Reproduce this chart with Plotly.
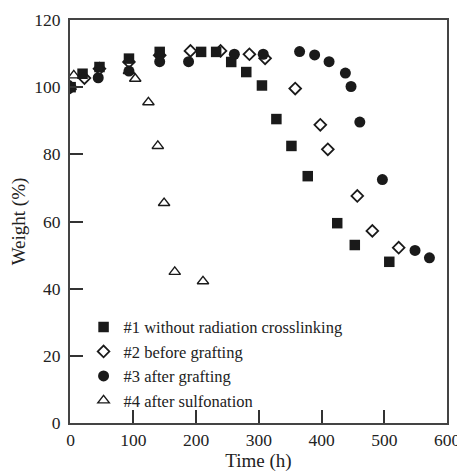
import plotly.graph_objects as go

# Series 1: without radiation crosslinking (filled squares)
s1_x = [0, 19, 46, 93, 142, 208, 232, 256, 280, 305, 328, 352, 378, 425, 453, 508]
s1_y = [100, 104, 106, 108.5, 110.5, 110.5, 110.5, 107.5, 104.5, 100.5, 90.5, 82.5, 73.5, 59.5, 53, 48]

# Series 2: before grafting (open diamonds)
s2_x = [0, 22, 46, 93, 142, 191, 239, 285, 310, 358, 398, 410, 457, 481, 523]
s2_y = [100, 102.7, 105.5, 107.5, 109.5, 110.8, 110.8, 109.8, 108.6, 99.6, 88.8, 81.5, 67.6, 57.2, 52.2]

# Series 3: after grafting (filled circles)
s3_x = [0, 44, 93, 142, 188, 261, 307, 365, 389, 412, 438, 447, 461, 497, 549, 572]
s3_y = [100, 102.8, 104.8, 107.6, 107.6, 109.8, 109.8, 110.6, 109.6, 107.6, 104.2, 100.2, 89.6, 72.5, 51.4, 49.2]

# Series 4: after sulfonation (open triangles)
s4_x = [0, 5, 93, 103, 124, 139, 149, 166, 211]
s4_y = [100, 103.5, 104.8, 102.5, 95.5, 82.5, 65.5, 45, 42.2]

names = ["#1 without radiation crosslinking", "#2 before grafting",
         "#3 after grafting", "#4 after sulfonation"]

x_ticks = [0, 100, 200, 300, 400, 500, 600]
y_ticks = [0, 20, 40, 60, 80, 100, 120]

ink = "#1a1a1a"
fig = go.Figure()
fig.add_trace(go.Scatter(x=s1_x, y=s1_y, mode="markers", name=names[0],
                         marker=dict(symbol="square", size=10.5, color=ink,
                                     line=dict(width=0))))
fig.add_trace(go.Scatter(x=s2_x, y=s2_y, mode="markers", name=names[1],
                         marker=dict(symbol="diamond-open", size=9, color=ink,
                                     line=dict(width=1.8))))
fig.add_trace(go.Scatter(x=s3_x, y=s3_y, mode="markers", name=names[2],
                         marker=dict(symbol="circle", size=11, color=ink,
                                     line=dict(width=0))))
fig.add_trace(go.Scatter(x=s4_x, y=s4_y, mode="markers", name=names[3],
                         marker=dict(symbol="triangle-up-open", size=10, color=ink,
                                     line=dict(width=1.4))))

font = "Liberation Serif, Times New Roman, serif"
fig.update_layout(
    width=457, height=464,
    margin=dict(l=62, r=18, t=12, b=49),
    paper_bgcolor="white", plot_bgcolor="white",
    font=dict(family=font, size=17, color="#222"),
    showlegend=True,
    legend=dict(x=0.036, y=0.281, xanchor="left", yanchor="top",
                bgcolor="rgba(0,0,0,0)", font=dict(family=font, size=16.5, color="#222"),
                itemwidth=30, tracegroupgap=0),
    xaxis=dict(range=[-1, 600], tickvals=x_ticks, ticktext=[str(v) for v in x_ticks],
               ticks="inside", ticklen=13, tickwidth=2, tickcolor="#333",
               showline=True, linecolor="#444", linewidth=2, mirror=True,
               showgrid=False, zeroline=False, automargin=False,
               tickfont=dict(family=font, size=17.5, color="#222"),
               title=dict(text="Time (h)", font=dict(family=font, size=19, color="#222"),
                          standoff=8)),
    yaxis=dict(range=[0, 120], tickvals=y_ticks, ticktext=[str(v) for v in y_ticks],
               ticks="inside", ticklen=13, tickwidth=2, tickcolor="#333",
               showline=True, linecolor="#444", linewidth=2, mirror=True,
               showgrid=False, zeroline=False, automargin=False,
               ticklabelstandoff=4,
               tickfont=dict(family=font, size=17.5, color="#222"),
               title=dict(text="Weight (%)", font=dict(family=font, size=19, color="#222"),
                          standoff=12)),
)

fig.write_html("out.html")
